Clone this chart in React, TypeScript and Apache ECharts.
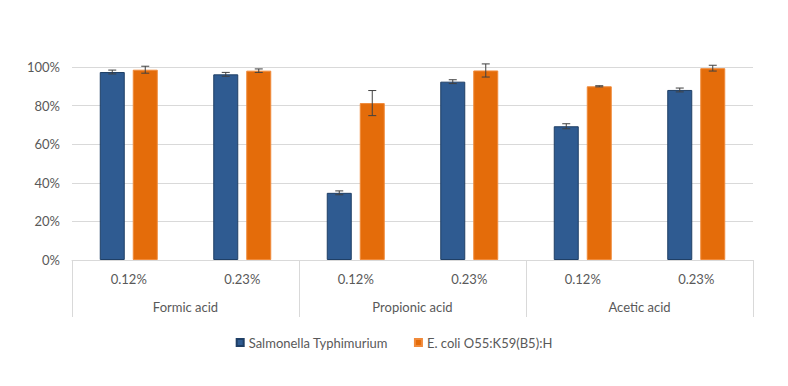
import React, { useEffect, useRef } from "react";
import * as echarts from "echarts";

const concentrations = ["0.12%", "0.23%", "0.12%", "0.23%", "0.12%", "0.23%"];
const acids = ["Formic acid", "Propionic acid", "Acetic acid"];
const seriesNames = ["Salmonella Typhimurium", "E. coli O55:K59(B5):H"];
const salmonella = [97.4, 96.2, 34.8, 92.4, 69.3, 88.1];
const salmonellaErr = [1.0, 1.0, 1.0, 1.0, 1.3, 1.0];
const ecoli = [98.6, 98.1, 81.3, 98.2, 90.0, 99.4];
const ecoliErr = [1.8, 0.9, 6.5, 3.4, 0.3, 1.5];
const yTicks = [0, 20, 40, 60, 80, 100];

const COLORS = ["#2F5B91", "#E46C0A"];
const BAR_W = 25;
const GAP = 8;
const FONT = "Lato";
const TXT = "#595959";

function errorSeries(values: number[], errs: number[], side: number) {
  const data = values.map((v, i) => [i, v, errs[i]]);
  return {
    type: "custom",
    xAxisIndex: 0,
    yAxisIndex: 0,
    silent: true,
    clip: false,
    z: 10,
    data,
    renderItem: (params: any, api: any) => {
      const i = api.value(0);
      const v = api.value(1);
      const e = api.value(2);
      const top = api.coord([i, v + e]);
      const bot = api.coord([i, v - e]);
      const x = top[0] + side * (BAR_W + GAP) / 2;
      const cap = 4;
      const style = { stroke: "#404040", lineWidth: 1 };
      return {
        type: "group",
        children: [
          { type: "line", shape: { x1: x, y1: top[1], x2: x, y2: bot[1] }, style },
          { type: "line", shape: { x1: x - cap, y1: top[1], x2: x + cap, y2: top[1] }, style },
          { type: "line", shape: { x1: x - cap, y1: bot[1], x2: x + cap, y2: bot[1] }, style },
        ],
      };
    },
  };
}

export default function App() {
  const ref = useRef<HTMLDivElement>(null);
  useEffect(() => {
    if (!ref.current) return;
    const chart = echarts.init(ref.current, undefined, { renderer: "svg" });
    chart.setOption({
      animation: false,
      backgroundColor: "#ffffff",
      textStyle: { fontFamily: FONT },
      grid: { left: 72, right: 35, top: 67, bottom: 126 },
      legend: {
        data: seriesNames,
        left: "center",
        top: 331,
        icon: "rect",
        itemWidth: 7,
        itemHeight: 7,
        itemGap: 26,
        textStyle: { color: TXT, fontSize: 13, fontFamily: FONT },
      },
      xAxis: [
        {
          type: "category",
          data: concentrations,
          position: "bottom",
          axisLine: { show: true, lineStyle: { color: "#D9D9D9" } },
          axisTick: { show: false },
          axisLabel: { color: TXT, fontSize: 13, margin: 12, fontFamily: FONT },
        },
        {
          type: "category",
          data: acids,
          position: "bottom",
          axisLine: { show: false },
          axisTick: { show: true, length: 57, lineStyle: { color: "#D9D9D9" } },
          axisLabel: { color: TXT, fontSize: 13, margin: 40, fontFamily: FONT },
        },
      ],
      yAxis: {
        type: "value",
        min: 0,
        max: 100,
        interval: 20,
        axisLine: { show: false },
        axisTick: { show: false },
        splitLine: { lineStyle: { color: "#D9D9D9" } },
        axisLabel: {
          color: TXT,
          fontSize: 13,
          margin: 12,
          fontFamily: FONT,
          formatter: (v: number) => (yTicks.includes(v) ? v + "%" : ""),
        },
      },
      series: [
        {
          name: seriesNames[0],
          type: "bar",
          data: salmonella,
          barWidth: BAR_W,
          barGap: (GAP / BAR_W) * 100 + "%",
          itemStyle: { color: COLORS[0], borderColor: "#1F3F66", borderWidth: 1 },
        },
        {
          name: seriesNames[1],
          type: "bar",
          data: ecoli,
          barWidth: BAR_W,
          barGap: (GAP / BAR_W) * 100 + "%",
          itemStyle: { color: COLORS[1], borderColor: "#F08A3A", borderWidth: 1 },
        },
        errorSeries(salmonella, salmonellaErr, -1),
        errorSeries(ecoli, ecoliErr, 1),
      ],
    });
    return () => chart.dispose();
  }, []);
  return <div ref={ref} style={{ width: 788, height: 386, margin: -8 }} />;
}
